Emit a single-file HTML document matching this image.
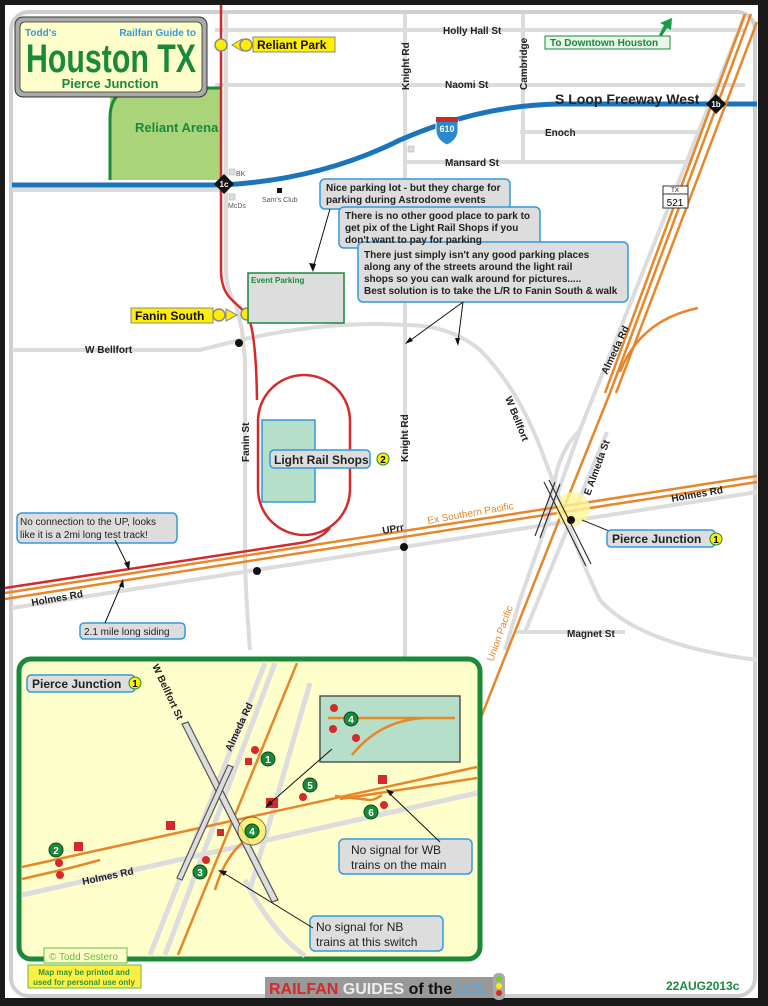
<!DOCTYPE html>
<html><head><meta charset="utf-8"><style>
html,body{margin:0;padding:0;background:#1a1a1a}
svg{display:block}
text{font-family:"Liberation Sans",Arial,sans-serif}
</style></head><body>
<svg width="768" height="1006" viewBox="0 0 768 1006" xmlns="http://www.w3.org/2000/svg">
<rect x="0" y="0" width="768" height="1006" fill="#1a1a1a"/>
<rect x="5" y="5" width="753" height="993" fill="#fff"/>
<rect x="11" y="12" width="744" height="984" rx="18" fill="#fff" stroke="#cfcfcf" stroke-width="4"/>

<!-- gray roads -->
<g stroke="#dcdcdc" stroke-width="4" fill="none">
<line x1="215" y1="30" x2="745" y2="30"/>
<line x1="215" y1="85" x2="745" y2="85"/>
<line x1="520" y1="132" x2="700" y2="132"/>
<line x1="405" y1="162" x2="690" y2="162"/>
<line x1="405" y1="14" x2="405" y2="665"/>
<line x1="523" y1="14" x2="523" y2="162"/>
<line x1="12" y1="190" x2="222" y2="190"/>
<path d="M226 14 L226 270 Q226 290 236 305 L242 330 L245 360 L245 560 Q246 600 250 650"/>
<path d="M12 350 L200 350 L240 340 Q330 320 405 325 Q450 325 480 350 Q520 390 545 460 L560 500 Q580 560 600 600 Q640 645 757 660"/>
<path d="M12 608 L757 492"/>
<line x1="515" y1="632" x2="625" y2="632"/>
<path d="M745 15 L580 430 L548 520 L520 600 L505 650"/>
<path d="M607 432 L525 632"/>
<path d="M580 430 Q560 450 555 480 L545 520"/>
</g>
<!-- freeway -->
<path d="M12 185 L222 185 Q320 180 400 140 Q480 105 560 104 L757 104" fill="none" stroke="#1a75bb" stroke-width="5"/>
<rect x="110" y="88" width="111" height="92" rx="0" fill="#a9d47a"/>
<path d="M221 88 L140 88 Q110 88 110 118 L110 180" fill="none" stroke="#1a8a3a" stroke-width="3"/>
<text x="135" y="132" font-size="13" font-weight="bold" fill="#1a8a3a">Reliant Arena</text>

<!-- UP orange lines -->
<g stroke="#e8862a" stroke-width="2.5" fill="none">
<line x1="745" y1="14" x2="605" y2="393"/>
<line x1="751" y1="14" x2="610" y2="393"/>
<line x1="757" y1="22" x2="616" y2="393"/>
<path d="M610 393 L565 505 L480 720"/>
<path d="M620 372 Q640 320 698 308"/>
<line x1="5" y1="593" x2="757" y2="476"/>
<line x1="5" y1="599" x2="757" y2="482"/>
</g>
<!-- red light rail -->
<path d="M221 5 L221 270 Q221 290 232 300 L247 314 Q256 330 257 400" fill="none" stroke="#d42a2a" stroke-width="2.5"/>
<rect x="258" y="375" width="92" height="160" rx="46" fill="none" stroke="#d42a2a" stroke-width="2.5"/>
<path d="M5 588 L300 543 Q320 540 330 528" fill="none" stroke="#d42a2a" stroke-width="2.5"/>
<rect x="262" y="420" width="53" height="82" fill="#b5dfc9" stroke="#3399dd" stroke-width="1.5"/>

<!-- pierce junction main -->
<circle cx="573" cy="509" r="17" fill="#fff59a" opacity="0.8"/>
<g stroke="#333" stroke-width="1.2" fill="none">
<line x1="544" y1="482" x2="586" y2="566"/><line x1="549" y1="480" x2="591" y2="564"/>
<line x1="540" y1="538" x2="560" y2="484"/><line x1="535" y1="536" x2="555" y2="482"/>
<line x1="614" y1="533" x2="582" y2="520"/>
</g>
<circle cx="571" cy="520" r="4" fill="#111"/>
<circle cx="239" cy="343" r="4" fill="#111"/>
<circle cx="404" cy="547" r="4" fill="#111"/>
<circle cx="257" cy="571" r="4" fill="#111"/>

<!-- title box -->
<rect x="15" y="17" width="192" height="80" rx="8" fill="#aaa" stroke="#333" stroke-width="1"/>
<rect x="20" y="22" width="182" height="70" rx="5" fill="#ffffcc" stroke="#333" stroke-width="0.8"/>
<text x="25" y="36" font-size="10" fill="#3399dd" font-weight="bold">Todd's</text>
<text x="196" y="36" font-size="10" fill="#3399dd" font-weight="bold" text-anchor="end">Railfan Guide to</text>
<text x="111" y="72" font-size="40" fill="#1a8a3a" font-weight="bold" text-anchor="middle" textLength="170" lengthAdjust="spacingAndGlyphs">Houston TX</text>
<text x="110" y="88" font-size="13" fill="#1a8a3a" font-weight="bold" text-anchor="middle">Pierce Junction</text>

<!-- stations -->
<circle cx="221" cy="45" r="6" fill="#ffee00" stroke="#888" stroke-width="1.5"/>
<polygon points="232,45 242,39 242,51" fill="#ffee00" stroke="#888"/>
<circle cx="246" cy="45" r="6" fill="#ffee00" stroke="#888" stroke-width="1.5"/>
<rect x="253" y="37" width="82" height="15" fill="#ffee00" stroke="#888"/>
<text x="257" y="49" font-size="12" font-weight="bold" fill="#111">Reliant Park</text>
<rect x="131" y="308" width="82" height="15" fill="#ffee00" stroke="#888"/>
<text x="135" y="320" font-size="12" font-weight="bold" fill="#111">Fanin South</text>
<circle cx="219" cy="315" r="6" fill="#ffee00" stroke="#888" stroke-width="1.5"/>
<polygon points="237,315 226,309 226,321" fill="#ffee00" stroke="#888"/>
<circle cx="247" cy="314" r="6" fill="#ffee00" stroke="#888" stroke-width="1.5"/>

<rect x="248" y="273" width="96" height="50" fill="#ddd" stroke="#1a8a3a" stroke-width="1.5"/>
<text x="251" y="283" font-size="8" font-weight="bold" fill="#1a8a3a">Event Parking</text>

<!-- shields -->
<path d="M436 120 h22 v10 q0 10 -11 15 q-11 -5 -11 -15z" fill="#2a88cc" stroke="#fff"/>
<rect x="436" y="117" width="22" height="5" fill="#cc2a2a"/>
<text x="447" y="132" font-size="9" font-weight="bold" fill="#fff" text-anchor="middle">610</text>
<rect x="663" y="186" width="25" height="22" fill="#fff" stroke="#333"/>
<line x1="663" y1="194" x2="688" y2="194" stroke="#333"/>
<text x="675" y="192" font-size="6" text-anchor="middle">TX</text>
<text x="675" y="206" font-size="10" text-anchor="middle">521</text>
<polygon points="716,94 726,104 716,114 706,104" fill="#111"/>
<text x="716" y="107" font-size="8" font-weight="bold" fill="#fff" text-anchor="middle">1b</text>
<polygon points="224,174 234,184 224,194 214,184" fill="#111"/>
<text x="224" y="187" font-size="8" font-weight="bold" fill="#fff" text-anchor="middle">1c</text>
<rect x="229" y="169" width="6" height="6" fill="#ddd" stroke="#aaa" stroke-width="0.5"/>
<text x="236" y="176" font-size="7" fill="#555">BK</text>
<rect x="229" y="194" width="6" height="6" fill="#ddd" stroke="#aaa" stroke-width="0.5"/>
<text x="228" y="208" font-size="7" fill="#555">McDs</text>
<rect x="277" y="188" width="5" height="5" fill="#111"/>
<text x="262" y="202" font-size="7" fill="#555">Sam's Club</text>
<rect x="408" y="146" width="6" height="6" fill="#ddd" stroke="#aaa" stroke-width="0.5"/>

<!-- downtown -->
<rect x="545" y="36" width="125" height="13" fill="#e8f5e8" stroke="#1a8a3a"/>
<text x="550" y="46" font-size="10" font-weight="bold" fill="#1a8a3a">To Downtown Houston</text>
<path d="M659 35 L664 25 L660 23 L672 18 L671 30 L667 28 L662 36z" fill="#1a9a4a"/>

<!-- street labels -->
<g font-size="10" font-weight="bold" fill="#222">
<text x="443" y="34">Holly Hall St</text>
<text x="445" y="88">Naomi St</text>
<text x="545" y="136">Enoch</text>
<text x="445" y="166">Mansard St</text>
<text x="85" y="353">W Bellfort</text>
<text x="567" y="637">Magnet St</text>
<text x="383" y="534" transform="rotate(-10 383 534)">UPrr</text>
<text transform="translate(409 90) rotate(-90)">Knight Rd</text>
<text transform="translate(527 90) rotate(-90)">Cambridge</text>
<text transform="translate(249 462) rotate(-90)">Fanin St</text>
<text transform="translate(408 462) rotate(-90)">Knight Rd</text>
<text transform="translate(505 398) rotate(68)">W Bellfort</text>
<text transform="translate(607 375) rotate(-65)">Almeda Rd</text>
<text transform="translate(590 496) rotate(-70)">E Almeda St</text>
<text transform="translate(672 502) rotate(-10)">Holmes Rd</text>
<text transform="translate(32 606) rotate(-10)">Holmes Rd</text>
</g>
<text x="555" y="104" font-size="14" font-weight="bold" fill="#222">S Loop Freeway West</text>
<text transform="translate(428 524) rotate(-10)" font-size="10" fill="#e8862a">Ex Southern Pacific</text>
<text transform="translate(493 662) rotate(-70)" font-size="10" fill="#e8862a">Union Pacific</text>

<!-- callouts -->
<g fill="#ddd" stroke="#3399dd" stroke-width="1.5">
<rect x="320" y="179" width="190" height="30" rx="5"/>
<rect x="339" y="207" width="201" height="41" rx="5"/>
<rect x="358" y="242" width="270" height="60" rx="5"/>
<rect x="17" y="513" width="160" height="30" rx="5"/>
<rect x="80" y="623" width="105" height="16" rx="4"/>
<rect x="607" y="530" width="108" height="17" rx="4"/>
<rect x="270" y="450" width="100" height="18" rx="4"/>
</g>
<g font-size="10" font-weight="bold" fill="#222">
<text x="326" y="191">Nice parking lot - but they charge for</text>
<text x="326" y="203">parking during Astrodome events</text>
<text x="345" y="219">There is no other good place to park to</text>
<text x="345" y="231">get pix of the Light Rail Shops if you</text>
<text x="345" y="243">don't want to pay for parking</text>
<text x="364" y="258">There just simply isn't any good parking places</text>
<text x="364" y="270">along any of the streets around the light rail</text>
<text x="364" y="282">shops so you can walk around for pictures.....</text>
<text x="364" y="294">Best solution is to take the L/R to Fanin South &amp; walk</text>
</g>
<g font-size="10" fill="#222">
<text x="20" y="525">No connection to the UP, looks</text>
<text x="20" y="538">like it is a 2mi long test track!</text>
<text x="84" y="635">2.1 mile long siding</text>
</g>
<text x="612" y="543" font-size="12" font-weight="bold" fill="#222">Pierce Junction</text>
<circle cx="716" cy="539" r="6" fill="#ffee00" stroke="#1a8a3a"/><text x="716" y="543" font-size="10" font-weight="bold" text-anchor="middle">1</text>
<text x="274" y="464" font-size="12" font-weight="bold" fill="#222">Light Rail Shops</text>
<circle cx="383" cy="459" r="6" fill="#ffee00" stroke="#1a8a3a"/><text x="383" y="463" font-size="10" font-weight="bold" text-anchor="middle">2</text>
<g stroke="#111" stroke-width="1" fill="none">
<line x1="330" y1="209" x2="313" y2="268"/>
<line x1="463" y1="302" x2="408" y2="342"/>
<line x1="463" y1="302" x2="458" y2="342"/>
<line x1="115" y1="540" x2="128" y2="566"/>
<line x1="105" y1="623" x2="122" y2="583"/>
</g>
<g fill="#111">
<polygon points="313,272 309,263 316,264"/>
<polygon points="405,344 410,337 413,341"/>
<polygon points="458,346 455,338 460,338"/>
<polygon points="129,570 124,563 130,561"/>
<polygon points="123,579 124,588 119,586"/>
</g>

<!-- inset -->
<rect x="19" y="659" width="461" height="300" rx="12" fill="#ffffcc" stroke="#1a8a3a" stroke-width="5"/>
<g stroke="#ddd" stroke-width="5" fill="none">
<line x1="22" y1="895" x2="477" y2="793"/>
<line x1="265" y1="663" x2="150" y2="955"/>
<line x1="275" y1="663" x2="165" y2="955"/>
<line x1="310" y1="683" x2="250" y2="890"/>
<path d="M245 880 Q270 930 305 956"/>
</g>
<g stroke="#e8862a" stroke-width="2.5" fill="none">
<line x1="297" y1="663" x2="178" y2="955"/>
<path d="M22 867 L477 767"/>
<path d="M22 879 L70 868 L100 860"/>
<path d="M340 799 L477 778"/>
<path d="M335 796 L370 800 Q375 800 382 795"/>
<path d="M215 890 Q228 845 260 832"/>
</g>
<g stroke="#555" stroke-width="1.2" fill="#ddd">
<polygon points="182,724 188,722 278,900 272,902"/>
<polygon points="228,765 233,767 182,880 177,878"/>
</g>
<rect x="320" y="696" width="140" height="66" fill="#b5dfc9" stroke="#555" stroke-width="1.5"/>
<path d="M328 718 L455 718 M425 718 Q380 720 352 755" stroke="#e8862a" stroke-width="2.5" fill="none"/>
<circle cx="252" cy="831" r="14" fill="#ffee66" opacity="0.8" stroke="#333" stroke-width="0.8"/>
<g fill="#d42a2a">
<rect x="74" y="842" width="9" height="9"/><rect x="166" y="821" width="9" height="9"/>
<rect x="217" y="829" width="7" height="7"/><rect x="266" y="798" width="12" height="10"/>
<rect x="378" y="775" width="9" height="9"/><rect x="245" y="758" width="7" height="7"/>
<circle cx="59" cy="863" r="4"/><circle cx="60" cy="875" r="4"/><circle cx="255" cy="750" r="4"/>
<circle cx="206" cy="860" r="4"/><circle cx="303" cy="797" r="4"/><circle cx="384" cy="805" r="4"/>
<circle cx="334" cy="708" r="4"/><circle cx="333" cy="729" r="4"/><circle cx="356" cy="738" r="4"/>
</g>
<g fill="#1a8a3a" stroke="#0c4a1c" stroke-width="1">
<circle cx="268" cy="759" r="7"/><circle cx="56" cy="850" r="7"/><circle cx="200" cy="872" r="7"/>
<circle cx="252" cy="831" r="7"/><circle cx="310" cy="785" r="7"/><circle cx="371" cy="812" r="7"/><circle cx="351" cy="719" r="7"/>
</g>
<g fill="#fff" font-size="10" font-weight="bold" text-anchor="middle">
<text x="268" y="763">1</text><text x="56" y="854">2</text><text x="200" y="876">3</text>
<text x="252" y="835">4</text><text x="310" y="789">5</text><text x="371" y="816">6</text><text x="351" y="723">4</text>
</g>
<rect x="27" y="675" width="108" height="17" rx="4" fill="#ddd" stroke="#3399dd" stroke-width="1.5"/>
<text x="32" y="688" font-size="12" font-weight="bold" fill="#222">Pierce Junction</text>
<circle cx="135" cy="683" r="6" fill="#ffee00" stroke="#1a8a3a"/><text x="135" y="687" font-size="10" font-weight="bold" text-anchor="middle">1</text>
<g font-size="10" font-weight="bold" fill="#222">
<text transform="translate(152 666) rotate(65)">W Bellfort St</text>
<text transform="translate(231 752) rotate(-65)">Almeda Rd</text>
<text transform="translate(83 885) rotate(-12)">Holmes Rd</text>
</g>
<rect x="339" y="839" width="133" height="35" rx="5" fill="#ddd" stroke="#3399dd" stroke-width="1.5"/>
<text x="351" y="854" font-size="12" fill="#222">No signal for WB</text>
<text x="351" y="869" font-size="12" fill="#222">trains on the main</text>
<rect x="310" y="916" width="133" height="35" rx="5" fill="#ddd" stroke="#3399dd" stroke-width="1.5"/>
<text x="316" y="931" font-size="12" fill="#222">No signal for NB</text>
<text x="316" y="946" font-size="12" fill="#222">trains at this switch</text>
<g stroke="#111" stroke-width="1" fill="none">
<line x1="332" y1="749" x2="268" y2="805"/>
<line x1="440" y1="842" x2="388" y2="792"/>
<line x1="313" y1="928" x2="222" y2="872"/>
</g>
<g fill="#111">
<polygon points="265,808 270,800 273,804"/><polygon points="386,789 394,792 390,796"/><polygon points="218,870 227,871 224,876"/>
</g>

<!-- footer -->
<rect x="44" y="948" width="83" height="15" fill="#ffffcc" stroke="#66bb33"/>
<text x="49" y="960" font-size="10" fill="#66bb33">© Todd Sestero</text>
<rect x="28" y="965" width="113" height="23" fill="#ffee44" stroke="#66bb33"/>
<text x="84" y="975" font-size="8" font-weight="bold" fill="#2a9a3a" text-anchor="middle">Map may be printed and</text>
<text x="84" y="985" font-size="8" font-weight="bold" fill="#2a9a3a" text-anchor="middle">used for personal use only</text>
<rect x="265" y="977" width="230" height="21" fill="#999"/>
<text x="269" y="994" font-size="16" font-weight="bold"><tspan fill="#d42a2a">RAILFAN</tspan><tspan fill="#eee"> GUIDES</tspan><tspan fill="#111"> of the</tspan><tspan fill="#5aaadd"> U.S.</tspan></text>
<rect x="493" y="973" width="12" height="27" rx="5" fill="#aaa"/>
<circle cx="499" cy="979" r="3" fill="#77cc33"/><circle cx="499" cy="986" r="3" fill="#ffee00"/><circle cx="499" cy="993" r="3" fill="#d42a2a"/>
<text x="666" y="990" font-size="12" font-weight="bold" fill="#1a8a3a">22AUG2013c</text>
</svg>
</body></html>
